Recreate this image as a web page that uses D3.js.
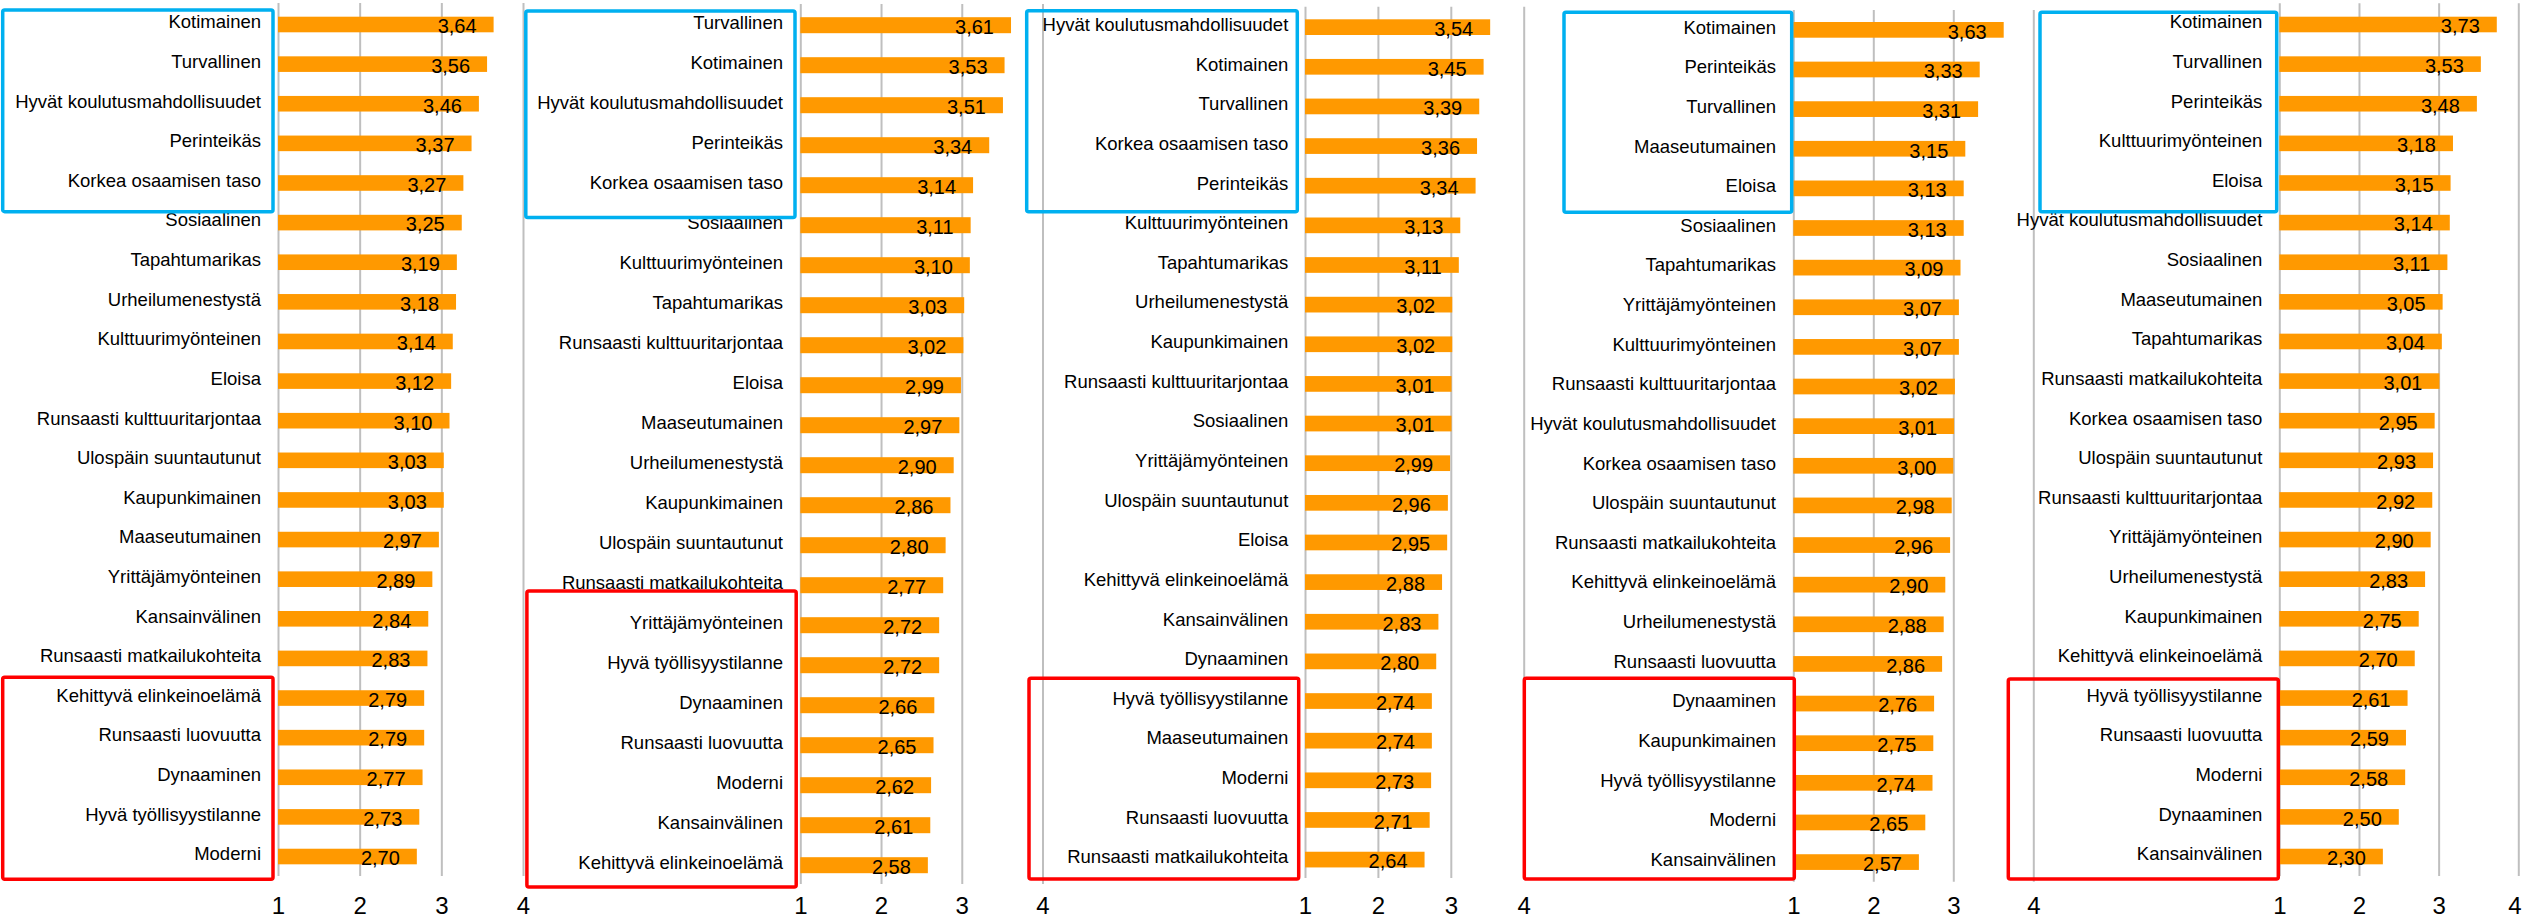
<!DOCTYPE html>
<html>
<head>
<meta charset="utf-8">
<script src="https://cdn.jsdelivr.net/npm/d3@7"></script>
<style>
  html, body { margin: 0; padding: 0; background: #ffffff; }
  svg { display: block; }
  text { font-family: "Liberation Sans", Arial, sans-serif; fill: #000; }
</style>
</head>
<body>
<svg id="chart" width="2522" height="920"></svg>
<script>
// ---------------- DATA ----------------
const tickValues = [1, 2, 3, 4];

const categories1 = ["Kotimainen","Turvallinen","Hyvät koulutusmahdollisuudet","Perinteikäs","Korkea osaamisen taso","Sosiaalinen","Tapahtumarikas","Urheilumenestystä","Kulttuurimyönteinen","Eloisa","Runsaasti kulttuuritarjontaa","Ulospäin suuntautunut","Kaupunkimainen","Maaseutumainen","Yrittäjämyönteinen","Kansainvälinen","Runsaasti matkailukohteita","Kehittyvä elinkeinoelämä","Runsaasti luovuutta","Dynaaminen","Hyvä työllisyystilanne","Moderni"];
const values1 = [3.64,3.56,3.46,3.37,3.27,3.25,3.19,3.18,3.14,3.12,3.10,3.03,3.03,2.97,2.89,2.84,2.83,2.79,2.79,2.77,2.73,2.70];

const categories2 = ["Turvallinen","Kotimainen","Hyvät koulutusmahdollisuudet","Perinteikäs","Korkea osaamisen taso","Sosiaalinen","Kulttuurimyönteinen","Tapahtumarikas","Runsaasti kulttuuritarjontaa","Eloisa","Maaseutumainen","Urheilumenestystä","Kaupunkimainen","Ulospäin suuntautunut","Runsaasti matkailukohteita","Yrittäjämyönteinen","Hyvä työllisyystilanne","Dynaaminen","Runsaasti luovuutta","Moderni","Kansainvälinen","Kehittyvä elinkeinoelämä"];
const values2 = [3.61,3.53,3.51,3.34,3.14,3.11,3.10,3.03,3.02,2.99,2.97,2.90,2.86,2.80,2.77,2.72,2.72,2.66,2.65,2.62,2.61,2.58];

const categories3 = ["Hyvät koulutusmahdollisuudet","Kotimainen","Turvallinen","Korkea osaamisen taso","Perinteikäs","Kulttuurimyönteinen","Tapahtumarikas","Urheilumenestystä","Kaupunkimainen","Runsaasti kulttuuritarjontaa","Sosiaalinen","Yrittäjämyönteinen","Ulospäin suuntautunut","Eloisa","Kehittyvä elinkeinoelämä","Kansainvälinen","Dynaaminen","Hyvä työllisyystilanne","Maaseutumainen","Moderni","Runsaasti luovuutta","Runsaasti matkailukohteita"];
const values3 = [3.54,3.45,3.39,3.36,3.34,3.13,3.11,3.02,3.02,3.01,3.01,2.99,2.96,2.95,2.88,2.83,2.80,2.74,2.74,2.73,2.71,2.64];

const categories4 = ["Kotimainen","Perinteikäs","Turvallinen","Maaseutumainen","Eloisa","Sosiaalinen","Tapahtumarikas","Yrittäjämyönteinen","Kulttuurimyönteinen","Runsaasti kulttuuritarjontaa","Hyvät koulutusmahdollisuudet","Korkea osaamisen taso","Ulospäin suuntautunut","Runsaasti matkailukohteita","Kehittyvä elinkeinoelämä","Urheilumenestystä","Runsaasti luovuutta","Dynaaminen","Kaupunkimainen","Hyvä työllisyystilanne","Moderni","Kansainvälinen"];
const values4 = [3.63,3.33,3.31,3.15,3.13,3.13,3.09,3.07,3.07,3.02,3.01,3.00,2.98,2.96,2.90,2.88,2.86,2.76,2.75,2.74,2.65,2.57];

const categories5 = ["Kotimainen","Turvallinen","Perinteikäs","Kulttuurimyönteinen","Eloisa","Hyvät koulutusmahdollisuudet","Sosiaalinen","Maaseutumainen","Tapahtumarikas","Runsaasti matkailukohteita","Korkea osaamisen taso","Ulospäin suuntautunut","Runsaasti kulttuuritarjontaa","Yrittäjämyönteinen","Urheilumenestystä","Kaupunkimainen","Kehittyvä elinkeinoelämä","Hyvä työllisyystilanne","Runsaasti luovuutta","Moderni","Dynaaminen","Kansainvälinen"];
const values5 = [3.73,3.53,3.48,3.18,3.15,3.14,3.11,3.05,3.04,3.01,2.95,2.93,2.92,2.90,2.83,2.75,2.70,2.61,2.59,2.58,2.50,2.30];

// ---------------- LAYOUT (pixels) ----------------
const layouts = [
  {x1: 278,    x4: 523,    barTop: 16.7, pitch: 39.62, barH: 15.6, gridTop: 3,   gridBottom: 876,   labelRight: 261,    tickY: 905.5,
   blue: [2.7, 10, 273, 211.7],        red: [2.7, 677.3, 273, 879.3]},
  {x1: 800.3,  x4: 1042.5, barTop: 17.2, pitch: 40.0,  barH: 16.0, gridTop: 4,   gridBottom: 884,   labelRight: 783,    tickY: 905.5,
   blue: [525.8, 11, 795, 217.6],      red: [526.9, 591, 796.2, 887]},
  {x1: 1305,   x4: 1523.7, barTop: 19.3, pitch: 39.64, barH: 15.7, gridTop: 6.7, gridBottom: 878,   labelRight: 1288.3, tickY: 905.5,
   blue: [1026.7, 10.7, 1297.3, 211.7], red: [1029, 678.3, 1298.7, 879]},
  {x1: 1793.3, x4: 2033.3, barTop: 22,   pitch: 39.63, barH: 15.7, gridTop: 10,  gridBottom: 881.7, labelRight: 1776,   tickY: 905.5,
   blue: [1564, 12.3, 1791.7, 212.3],  red: [1524.3, 678.3, 1794.3, 879]},
  {x1: 2279.3, x4: 2518.3, barTop: 16.7, pitch: 39.62, barH: 15.6, gridTop: 3.3, gridBottom: 876,   labelRight: 2262.3, tickY: 905.5,
   blue: [2040, 12.3, 2276.7, 211.7],  red: [2008.3, 679, 2278.3, 879]}
];

const panels = [
  {cats: categories1, vals: values1},
  {cats: categories2, vals: values2},
  {cats: categories3, vals: values3},
  {cats: categories4, vals: values4},
  {cats: categories5, vals: values5}
];

const BAR = "#FF9900", GRID = "#BFBFBF", BLUE = "#00B0F0", RED = "#FF0000";
const fmtLocale = d3.formatLocale({decimal: ",", thousands: " ", grouping: [3], currency: ["", "€"]});
const fmt = fmtLocale.format(".2f");

const svg = d3.select("#chart");
const W = 2522;

panels.forEach((p, i) => {
  const L = layouts[i];
  const g = svg.append("g");
  const n = p.cats.length;
  const pad = (L.pitch - L.barH) / L.pitch;
  const y = d3.scaleBand()
    .domain(p.cats)
    .range([L.barTop - (L.pitch - L.barH) / 2, L.barTop - (L.pitch - L.barH) / 2 + n * L.pitch])
    .paddingInner(pad).paddingOuter(pad / 2);
  const x = d3.scaleLinear().domain([1, 4]).range([L.x1, L.x4]);

  // gridlines
  const grid = g.append("g")
    .attr("transform", `translate(0,${L.gridBottom})`)
    .call(d3.axisBottom(x).tickValues(tickValues).tickSize(-(L.gridBottom - L.gridTop)).tickFormat(""));
  grid.select(".domain").remove();
  grid.selectAll(".tick line").attr("stroke", GRID).attr("stroke-width", 2);

  // tick labels
  const tl = g.append("g")
    .attr("transform", `translate(0,${L.tickY})`)
    .call(d3.axisBottom(x).tickValues(tickValues).tickSize(0).tickPadding(0).tickFormat(d3.format("d")));
  tl.select(".domain").remove();
  tl.selectAll(".tick text")
    .attr("y", 0).attr("dy", "0.36em")
    .style("font-family", "'Liberation Sans', Arial, sans-serif")
    .style("font-size", "24px").attr("fill", "#000")
    .each(function(d) {
      // keep a label that would spill past the right edge inside the picture
      if (x(d) + 8 > W) d3.select(this).attr("text-anchor", "end").attr("x", W - 1 - x(d));
    });

  const data = p.cats.map((c, k) => ({cat: c, val: p.vals[k]}));

  // bars
  g.selectAll("rect.bar").data(data).join("rect")
    .attr("class", "bar")
    .attr("x", x(1))
    .attr("y", d => y(d.cat))
    .attr("width", d => x(d.val) - x(1))
    .attr("height", y.bandwidth())
    .attr("fill", BAR);

  // category labels
  g.selectAll("text.cat").data(data).join("text")
    .attr("class", "cat")
    .attr("x", L.labelRight)
    .attr("y", d => y(d.cat) + y.bandwidth() / 2 + 3.8)
    .attr("text-anchor", "end")
    .style("font-size", "18.5px")
    .text(d => d.cat);

  // value labels
  g.selectAll("text.val").data(data).join("text")
    .attr("class", "val")
    .attr("x", d => x(d.val) - 17)
    .attr("y", d => y(d.cat) + y.bandwidth() / 2 + 8.8)
    .attr("text-anchor", "end")
    .style("font-size", "20px")
    .text(d => fmt(d.val));

  // highlight boxes
  [[L.blue, BLUE], [L.red, RED]].forEach(([r, col]) => {
    g.append("rect")
      .attr("x", r[0]).attr("y", r[1])
      .attr("width", r[2] - r[0]).attr("height", r[3] - r[1])
      .attr("rx", 2).attr("ry", 2)
      .attr("fill", "none").attr("stroke", col).attr("stroke-width", 3.5);
  });
});
</script>
</body>
</html>
